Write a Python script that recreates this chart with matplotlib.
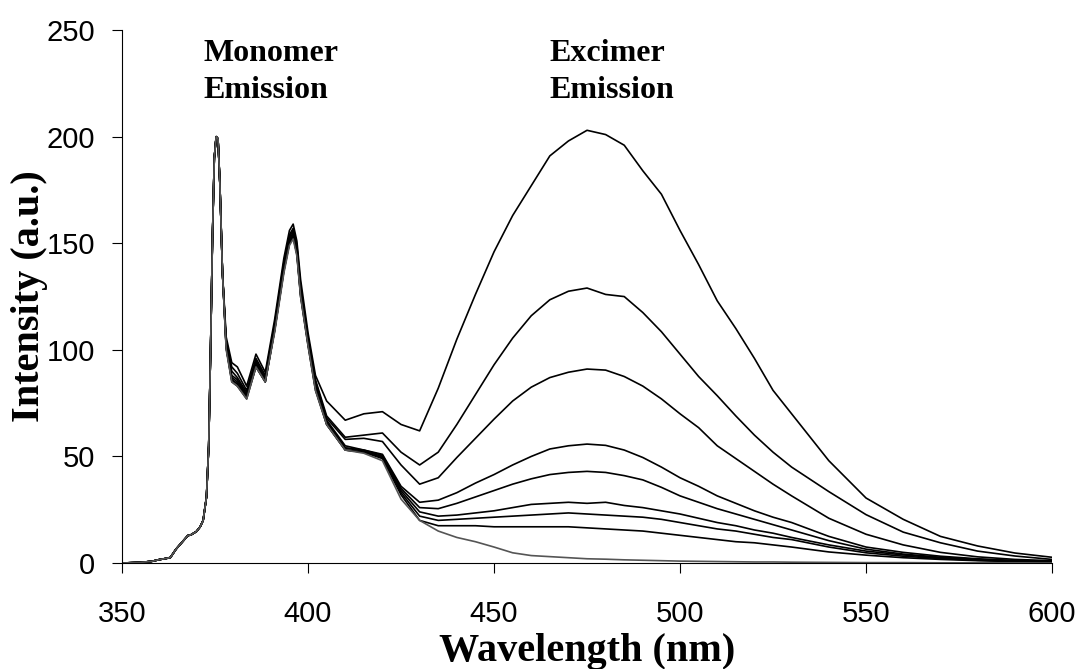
import matplotlib
matplotlib.use("Agg")
import matplotlib.pyplot as plt

# shared rising edge + monomer 0-0 band (all spectra overlap here)
head_wl = [350, 355, 358, 360, 362, 363, 364.5, 366.5, 367.7, 368.5, 370, 371,
           371.8, 372.7, 373.3, 373.8, 374.3, 374.8, 375.3, 375.8, 376.3, 377]
head_int = [0, 0.3, 0.8, 1.6, 2.2, 2.6, 6.5, 10.5, 12.9, 13.2, 14.8, 17,
            20, 31, 55, 100, 152, 190, 200, 199, 178, 136]

body_wl = [378, 379.5, 381, 383.5, 386, 388.5, 391, 393.5, 395, 396, 397, 398, 400, 402,
           405, 410, 415, 420, 425, 430, 435, 440, 445, 450, 455, 460, 465, 470,
           475, 480, 485, 490, 495, 500, 505, 510, 515, 520, 525, 530,
           540, 550, 560, 570, 580, 590, 600]

spec1 = [106, 94, 92, 83, 98, 89.5, 114, 143, 156, 159, 151, 133, 108, 88,
         76, 67, 70, 71, 65, 62, 82, 105, 126, 146, 163, 177, 191, 198,
         203, 201, 196, 184, 173, 156, 140, 123, 110, 96, 81, 70,
         48, 30.5, 20.5, 12.5, 8, 4.7, 2.7]
spec2 = [104, 92, 89, 81, 96, 88, 112, 141, 154, 157, 149, 130, 106, 86,
         69, 59, 60, 61, 52, 46, 52, 65, 79, 93, 105.5, 116, 123.5, 127.5,
         129, 126, 125, 117.5, 108.5, 98, 87.5, 78.5, 69, 60, 52, 45,
         33.5, 22.7, 14.5, 9.5, 5.6, 3.3, 1.7]
spec3 = [103, 90, 87, 80, 95, 87, 111, 140, 153, 156, 148, 129, 105, 85,
         68, 58, 58.5, 57, 46, 37, 40, 49.5, 58.5, 67.5, 76, 82.5, 87, 89.5,
         91, 90.5, 87.5, 83, 77, 70, 63.5, 55, 49, 43, 37, 31.5,
         21, 13.5, 8.5, 5, 2.9, 1.7, 1.1]
spec4 = [102, 88, 86, 79, 94, 86, 110, 139, 152, 155, 147, 128, 104, 84,
         67, 55, 53, 51, 36, 28.5, 29.5, 33, 37.5, 41.5, 46, 50, 53.5, 55,
         55.8, 55.2, 53, 49.5, 45, 40, 36, 31.5, 28, 24.5, 21.5, 19,
         12.5, 7.5, 5, 3.2, 2, 1.2, 0.8]
spec5 = [102, 87, 85, 79, 93, 86, 110, 138, 151, 154, 146, 127, 103, 83,
         66, 54, 53, 50.5, 35, 26, 25.5, 28, 31, 34, 37, 39.5, 41.5, 42.5,
         43, 42.5, 41, 39, 35.5, 31.5, 28.5, 25.5, 23, 20.5, 18, 15.5,
         10.5, 6.5, 4.2, 2.7, 1.7, 1, 0.6]
spec6 = [101, 86, 84, 78, 93, 85, 109, 138, 151, 154, 146, 126, 103, 82,
         66, 54, 52.5, 50, 34, 24, 22, 22.5, 23.5, 24.5, 26, 27.5, 28, 28.5,
         28, 28.5, 27, 26, 24.5, 23, 21, 19, 17.5, 15.5, 14, 12,
         8.5, 5.6, 3.8, 2.4, 1.5, 0.9, 0.5]
spec7 = [101, 86, 84, 78, 92, 85, 109, 137, 150, 153, 145, 126, 103, 82,
         65, 53, 52, 49.5, 33, 22, 20, 20.5, 21, 21.5, 22, 22.5, 23, 23.5,
         23, 22.5, 22, 21.5, 20.5, 19, 17.5, 16, 15, 13.5, 12, 11,
         7.5, 4.8, 3.2, 2.1, 1.3, 0.8, 0.4]
spec8 = [101, 85, 83, 77, 92, 85, 109, 137, 150, 153, 145, 125, 102, 81,
         65, 53, 52, 49, 32, 20, 17.5, 17.5, 17.5, 17, 17, 17, 17, 17,
         16.5, 16, 15.5, 15, 14, 13, 12, 11, 10, 9.5, 8.5, 7.5,
         5.2, 3.7, 2.5, 1.7, 1.1, 0.7, 0.3]
spec9 = [100, 85, 83, 77, 92, 85, 108, 136, 149, 152, 144, 125, 102, 81,
         65, 53, 51.5, 48, 30, 20, 15, 12, 10, 7.5, 4.8, 3.5, 3, 2.5,
         2, 1.8, 1.5, 1.3, 1.1, 0.9, 0.8, 0.7, 0.6, 0.5, 0.5, 0.4,
         0.3, 0.2, 0.2, 0.1, 0.1, 0.1, 0]

spectra = [spec1, spec2, spec3, spec4, spec5, spec6, spec7, spec8, spec9]
colors = ['black'] * 8 + ['#555555']

serif = ['Liberation Serif', 'DejaVu Serif']
sans = ['Liberation Sans', 'DejaVu Sans']

fig = plt.figure(figsize=(10.81, 6.69), dpi=100)
ax = fig.add_axes([0.1129, 0.1584, 0.9732 - 0.1129, 0.955 - 0.1584])

for s, c in zip(spectra, colors):
    ax.plot(head_wl + body_wl, head_int + s, color=c, lw=1.2)

ax.set_xlim(350, 600)
ax.set_ylim(0, 250)
ax.set_xticks([350, 400, 450, 500, 550, 600])
ax.set_yticks([0, 50, 100, 150, 200, 250])
ax.spines['top'].set_visible(False)
ax.spines['right'].set_visible(False)
for sp in ['left', 'bottom']:
    ax.spines[sp].set_linewidth(0.8)
ax.tick_params(axis='both', direction='out', length=7.5, width=0.8)
ax.tick_params(axis='x', pad=19)
ax.tick_params(axis='y', pad=12)
for lab in ax.get_xticklabels() + ax.get_yticklabels():
    lab.set_family(sans)
    lab.set_fontsize(21)

ax.set_xlabel('Wavelength (nm)', family=serif, fontweight='bold', fontsize=29, labelpad=4)
ax.set_ylabel('Intensity (a.u.)', family=serif, fontweight='bold', fontsize=29, labelpad=-1)

ax.text(372.0, 246, 'Monomer\nEmission', family=serif, fontweight='bold',
        fontsize=23, ha='left', va='top', linespacing=1.37)
ax.text(464.8, 246, 'Excimer\nEmission', family=serif, fontweight='bold',
        fontsize=23, ha='left', va='top', linespacing=1.37)

fig.savefig('out.png', dpi=100)
